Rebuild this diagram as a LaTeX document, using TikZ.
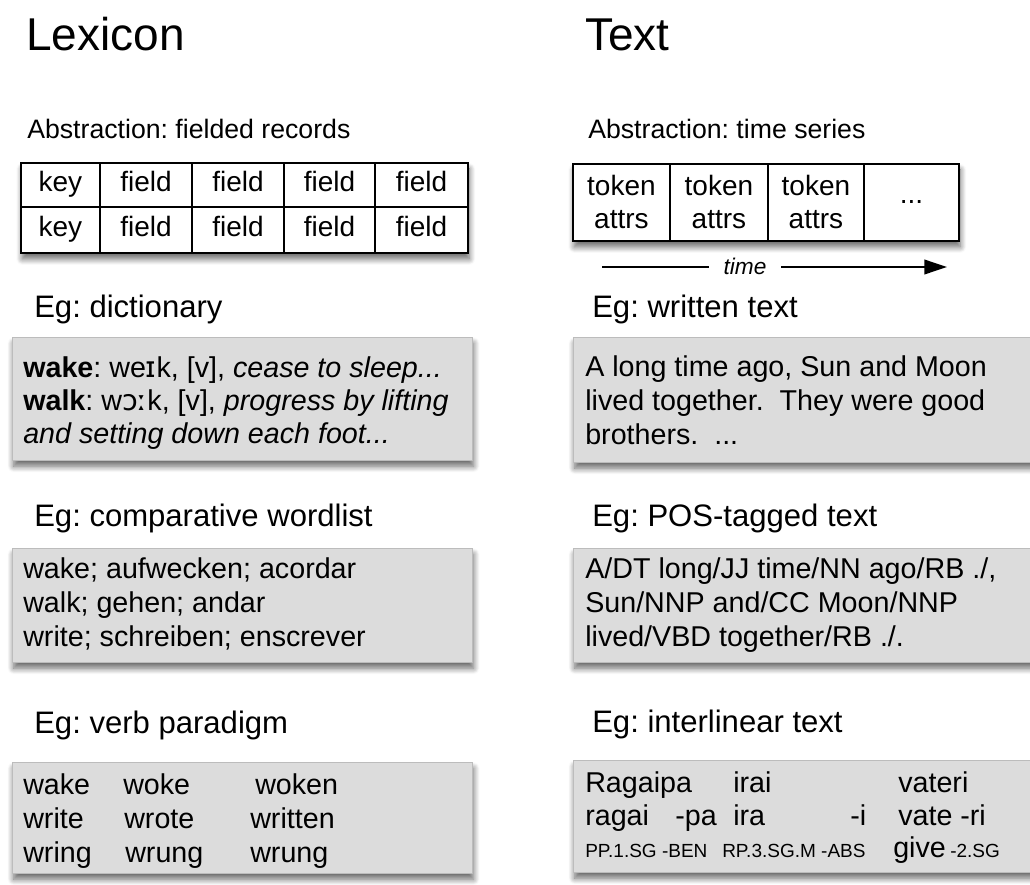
\documentclass[tikz,border=0pt]{standalone}
\usepackage{fontspec}
\setmainfont{Liberation Sans}
\newfontfamily\ipaf{DejaVu Sans}
\usetikzlibrary{arrows.meta,shadows.blur}
\definecolor{boxgray}{RGB}{220,220,220}
\definecolor{boxedge}{RGB}{188,188,188}
\begin{document}
\frenchspacing
\begin{tikzpicture}[x=0.75pt,y=-0.75pt,
  titletxt/.style={anchor=base west, inner sep=0, font=\fontsize{34.5}{40}\selectfont},
  abstxt/.style={anchor=base west, inner sep=0, font=\fontsize{20}{24}\selectfont},
  egtxt/.style={anchor=base west, inner sep=0, font=\fontsize{23.3}{28}\selectfont},
  bodytxt/.style={anchor=base west, inner sep=0, font=\fontsize{21.5}{26}\selectfont},
  smalltxt/.style={anchor=base west, inner sep=0, font=\fontsize{14.25}{17}\selectfont},
  graybox/.style={anchor=north west, inner sep=0, fill=boxgray, draw=boxedge, line width=0.4pt,
    blur shadow={shadow xshift=1pt, shadow yshift=-4.5pt, shadow blur radius=4.5pt, shadow blur steps=10, shadow opacity=60}},
  tablebg/.style={anchor=north west, inner sep=0, fill=white, draw=black, line width=1.4pt,
    blur shadow={shadow xshift=1pt, shadow yshift=-4.5pt, shadow blur radius=4.5pt, shadow blur steps=10, shadow opacity=60}},
  cellbase/.style={anchor=north west, inner sep=0, draw=black, line width=1.4pt, align=center,
    font=\fontsize{21}{24.75}\selectfont},
  cell/.style={cellbase, text height=15pt, text depth=4.5pt},
  tokcell/.style={cellbase},
  timelbl/.style={inner ysep=0, inner xsep=11pt, fill=white, font=\fontsize{17}{20}\selectfont\itshape},
  axis/.style={line width=1.2pt, draw=black}
]
\path[use as bounding box] (0,0) rectangle (1030,884);
\clip (0,0) rectangle (1030,884);

% titles
\node[titletxt] (lex) at (26,51) {Lexicon};
\node[titletxt] (txt) at (585,51) {Text};

% abstraction labels
\node[abstxt] (absL) at (27,139) {Abstraction: fielded records};
\node[abstxt] (absR) at (588,139) {Abstraction: time series};

% fielded records table
\node[tablebg, minimum width=335.25pt, minimum height=67.5pt] (rec) at (20,162) {};
\node[cell, minimum width=59.25pt, minimum height=33pt] (r1c1) at (20,162) {key};
\node[cell, minimum width=69pt, minimum height=33pt] (r1c2) at (99,162) {field};
\node[cell, minimum width=69pt, minimum height=33pt] (r1c3) at (191,162) {field};
\node[cell, minimum width=68.25pt, minimum height=33pt] (r1c4) at (283,162) {field};
\node[cell, minimum width=69.75pt, minimum height=33pt] (r1c5) at (374,162) {field};
\node[cell, minimum width=59.25pt, minimum height=34.5pt] (r2c1) at (20,206) {key};
\node[cell, minimum width=69pt, minimum height=34.5pt] (r2c2) at (99,206) {field};
\node[cell, minimum width=69pt, minimum height=34.5pt] (r2c3) at (191,206) {field};
\node[cell, minimum width=68.25pt, minimum height=34.5pt] (r2c4) at (283,206) {field};
\node[cell, minimum width=69.75pt, minimum height=34.5pt] (r2c5) at (374,206) {field};

% time series table
\node[tablebg, minimum width=289.5pt, minimum height=57.75pt] (ts) at (572,163) {};
\node[tokcell, minimum width=72.75pt, minimum height=57.75pt] (t1) at (572,163) {token\\attrs};
\node[tokcell, minimum width=73.5pt, minimum height=57.75pt] (t2) at (669,163) {token\\attrs};
\node[tokcell, minimum width=72pt, minimum height=57.75pt] (t3) at (767,163) {token\\attrs};
\node[tokcell, minimum width=71.25pt, minimum height=57.75pt] (t4) at (863,163) {...};

% time arrow
\coordinate (tl) at (602,267);
\coordinate (tr) at (947,267);
\node[timelbl] (time) at (745,266) {time};
\draw[axis] (tl) -- (time.west |- tl);
\draw[axis, -{Triangle[length=17pt, width=11pt]}] (time.east |- tr) -- (tr);

% ---------- left column ----------
\node[egtxt] (egdict) at (34,317) {Eg: dictionary};
\node[graybox, minimum width=345pt, minimum height=92.25pt] (dict) at (12,337) {};
\node[bodytxt] (d1) at (23,377) {\textbf{wake}: we{\ipaf ɪ}k, [v], \textit{cease to sleep...}};
\node[bodytxt] (d2) at (23,410) {\textbf{walk}: w{\ipaf ɔː}k, [v], \textit{progress by lifting}};
\node[bodytxt] (d3) at (23,443) {\textit{and setting down each foot...}};

\node[egtxt] (egword) at (34,526) {Eg: comparative wordlist};
\node[graybox, minimum width=345pt, minimum height=85.5pt] (word) at (12,548) {};
\node[bodytxt] (w1) at (23,578) {wake; aufwecken; acordar};
\node[bodytxt] (w2) at (23,612) {walk; gehen; andar};
\node[bodytxt] (w3) at (23,646) {write; schreiben; enscrever};

\node[egtxt] (egverb) at (34,733) {Eg: verb paradigm};
\node[graybox, minimum width=345pt, minimum height=83.25pt] (verb) at (12,762) {};
\node[bodytxt] (v11) at (23,794) {wake};
\node[bodytxt] (v12) at (123,794) {woke};
\node[bodytxt] (v13) at (255,794) {woken};
\node[bodytxt] (v21) at (23,828) {write};
\node[bodytxt] (v22) at (124,828) {wrote};
\node[bodytxt] (v23) at (250,828) {written};
\node[bodytxt] (v31) at (23,862) {wring};
\node[bodytxt] (v32) at (125,862) {wrung};
\node[bodytxt] (v33) at (250,862) {wrung};

% ---------- right column ----------
\node[egtxt] (egwrit) at (592,317) {Eg: written text};
\node[graybox, minimum width=352pt, minimum height=93.75pt] (writ) at (573,337) {};
\node[bodytxt] (x1) at (585,376) {A long time ago, Sun and Moon};
\node[bodytxt] (x2) at (585,410) {lived together.\ \ They were good};
\node[bodytxt] (x3) at (585,444) {brothers.\ \ ...};

\node[egtxt] (egpos) at (592,526) {Eg: POS-tagged text};
\node[graybox, minimum width=352pt, minimum height=85.5pt] (pos) at (573,548) {};
\node[bodytxt] (p1) at (585,578) {A/DT long/JJ time/NN ago/RB ./,};
\node[bodytxt] (p2) at (585,612) {Sun/NNP and/CC Moon/NNP};
\node[bodytxt] (p3) at (585,646) {lived/VBD together/RB ./.};

\node[egtxt] (egint) at (592,732) {Eg: interlinear text};
\node[graybox, minimum width=352pt, minimum height=84pt] (intl) at (573,760) {};
\node[bodytxt] (i11) at (585,792) {Ragaipa};
\node[bodytxt] (i12) at (733,792) {irai};
\node[bodytxt] (i13) at (898,792) {vateri};
\node[bodytxt] (i21) at (585,825) {ragai};
\node[bodytxt] (i22) at (675,825) {-pa};
\node[bodytxt] (i23) at (733,825) {ira};
\node[bodytxt] (i24) at (850,825) {-i};
\node[bodytxt] (i25) at (898,825) {vate -ri};
\node[smalltxt] (i31) at (585,857) {PP.1.SG -BEN};
\node[smalltxt] (i32) at (722,857) {RP.3.SG.M -ABS};
\node[bodytxt] (i33) at (893,857) {give};
\node[smalltxt] (i34) at (950,857) {-2.SG};
\end{tikzpicture}
\end{document}
